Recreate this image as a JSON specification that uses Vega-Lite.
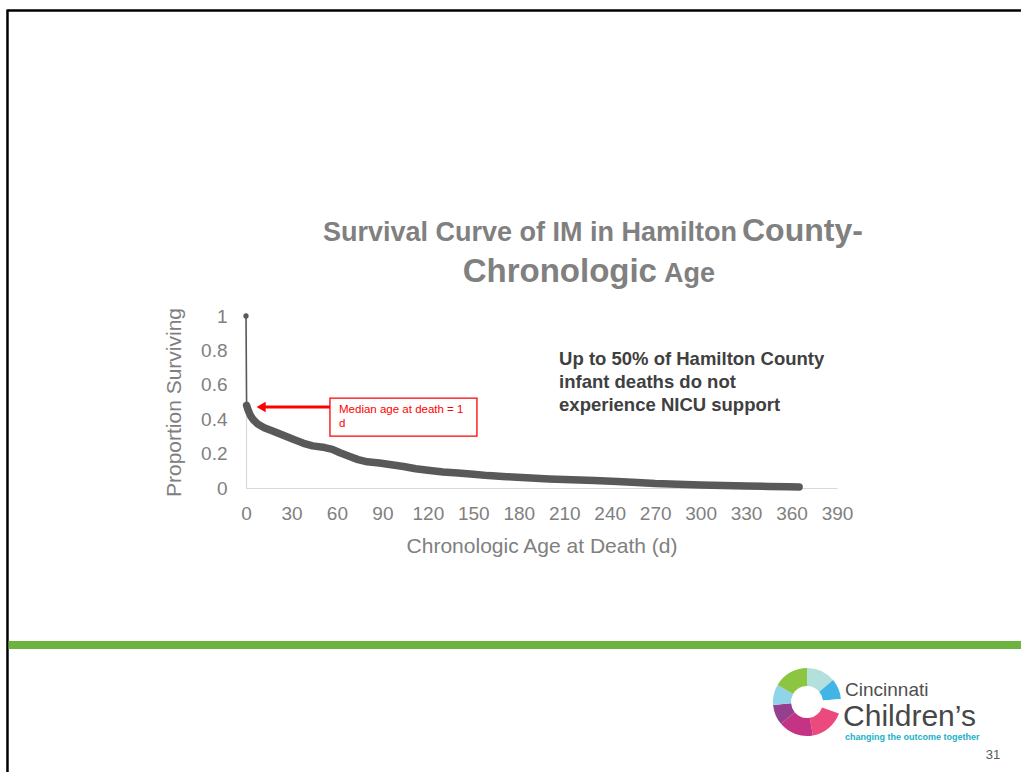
{
  "$schema": "https://vega.github.io/schema/vega-lite/v6.json",
  "width": 591,
  "height": 172,
  "autosize": {"type": "none"},
  "padding": {"left": 246, "top": 316, "right": 184, "bottom": 284},
  "background": "white",
  "config": {
    "view": {"stroke": null},
    "font": "Liberation Sans",
    "axis": {"grid": false, "ticks": false, "domainColor": "#d9d9d9", "domainWidth": 1.2, "labelColor": "#808080", "labelFontSize": 19, "labelFont": "Liberation Sans", "titleColor": "#808080", "titleFontSize": 21, "titleFontWeight": "normal", "titleFont": "Liberation Sans", "labelOverlap": false, "labelFlush": false}
  },
  "datasets": {
    "curve": [
      {"day": 0, "surv": 1.0},
      {"day": 0.4, "surv": 0.48},
      {"day": 1.5, "surv": 0.45},
      {"day": 3, "surv": 0.42},
      {"day": 5, "surv": 0.395},
      {"day": 8, "surv": 0.37},
      {"day": 12, "surv": 0.35},
      {"day": 18, "surv": 0.33},
      {"day": 25, "surv": 0.305},
      {"day": 32, "surv": 0.28},
      {"day": 38, "surv": 0.26},
      {"day": 44, "surv": 0.245},
      {"day": 52, "surv": 0.235},
      {"day": 57, "surv": 0.225},
      {"day": 62, "surv": 0.205},
      {"day": 68, "surv": 0.185},
      {"day": 74, "surv": 0.165},
      {"day": 80, "surv": 0.152},
      {"day": 88, "surv": 0.145},
      {"day": 96, "surv": 0.135},
      {"day": 104, "surv": 0.125},
      {"day": 112, "surv": 0.112},
      {"day": 120, "surv": 0.103},
      {"day": 130, "surv": 0.093},
      {"day": 140, "surv": 0.087},
      {"day": 150, "surv": 0.08},
      {"day": 160, "surv": 0.072},
      {"day": 172, "surv": 0.066},
      {"day": 185, "surv": 0.06},
      {"day": 200, "surv": 0.053},
      {"day": 215, "surv": 0.048},
      {"day": 230, "surv": 0.043},
      {"day": 245, "surv": 0.038},
      {"day": 258, "surv": 0.032},
      {"day": 270, "surv": 0.026},
      {"day": 285, "surv": 0.022},
      {"day": 300, "surv": 0.018},
      {"day": 315, "surv": 0.015},
      {"day": 330, "surv": 0.012},
      {"day": 345, "surv": 0.009},
      {"day": 358, "surv": 0.007},
      {"day": 365, "surv": 0.006}
    ],
    "frame": [
      {"part": "top", "day": -157.4, "day2": 511.4, "surv": 2.776, "surv2": 2.776},
      {"part": "left", "day": -157.4, "day2": -157.4, "surv": 2.782, "surv2": -1.651}
    ],
    "band": [
      {"day": -156.7, "day2": 511.4, "surv": -0.913}
    ],
    "logo": [
      {"idx": 1, "seg": "pale teal", "share": 50, "day": 370.2, "surv": -1.244},
      {"idx": 2, "seg": "blue", "share": 35, "day": 370.2, "surv": -1.244},
      {"idx": 3, "seg": "gap", "share": 25, "day": 370.2, "surv": -1.244},
      {"idx": 4, "seg": "pink", "share": 60, "day": 370.2, "surv": -1.244},
      {"idx": 5, "seg": "magenta", "share": 60, "day": 370.2, "surv": -1.244},
      {"idx": 6, "seg": "purple", "share": 35, "day": 370.2, "surv": -1.244},
      {"idx": 7, "seg": "light blue", "share": 35, "day": 370.2, "surv": -1.244},
      {"idx": 8, "seg": "green", "share": 60, "day": 370.2, "surv": -1.244}
    ]
  },
  "encoding": {
    "x": {
      "field": "day",
      "type": "quantitative",
      "title": "Chronologic Age at Death (d)",
      "scale": {"domain": [0, 390], "nice": false, "zero": false},
      "axis": {"values": [0, 30, 60, 90, 120, 150, 180, 210, 240, 270, 300, 330, 360, 390], "labelPadding": 16, "titlePadding": 12}
    },
    "y": {
      "field": "surv",
      "type": "quantitative",
      "title": "Proportion Surviving",
      "scale": {"domain": [0, 1], "nice": false, "zero": false},
      "axis": {"values": [0, 0.2, 0.4, 0.6, 0.8, 1], "format": "~g", "labelPadding": 19, "titlePadding": 16}
    }
  },
  "layer": [
    {
      "data": {"name": "frame"},
      "mark": {"type": "rule", "color": "#000000", "strokeWidth": 2.5, "clip": false},
      "encoding": {"x2": {"field": "day2"}, "y2": {"field": "surv2"}}
    },
    {
      "data": {"name": "band"},
      "mark": {"type": "rule", "color": "#6db33f", "strokeWidth": 8, "clip": false},
      "encoding": {"x2": {"field": "day2"}}
    },
    {
      "data": {"values": [{"day": 324.0, "surv": 1.436, "label": "Survival Curve of IM in Hamilton"}]},
      "mark": {"type": "text", "align": "right", "baseline": "alphabetic", "fontSize": 27, "fontWeight": "bold", "color": "#808080", "font": "Liberation Sans", "clip": false},
      "encoding": {"text": {"field": "label"}}
    },
    {
      "data": {"values": [{"day": 327.3, "surv": 1.436, "label": "County-"}]},
      "mark": {"type": "text", "align": "left", "baseline": "alphabetic", "fontSize": 32, "fontWeight": "bold", "color": "#808080", "font": "Liberation Sans", "clip": false},
      "encoding": {"text": {"field": "label"}}
    },
    {
      "data": {"values": [{"day": 271.2, "surv": 1.198, "label": "Chronologic"}]},
      "mark": {"type": "text", "align": "right", "baseline": "alphabetic", "fontSize": 33, "fontWeight": "bold", "color": "#808080", "font": "Liberation Sans", "clip": false},
      "encoding": {"text": {"field": "label"}}
    },
    {
      "data": {"values": [{"day": 275.8, "surv": 1.198, "label": "Age"}]},
      "mark": {"type": "text", "align": "left", "baseline": "alphabetic", "fontSize": 27, "fontWeight": "bold", "color": "#808080", "font": "Liberation Sans", "clip": false},
      "encoding": {"text": {"field": "label"}}
    },
    {
      "data": {"name": "curve"},
      "mark": {"type": "line", "color": "#595959", "strokeWidth": 1.6},
      "encoding": {}
    },
    {
      "data": {"name": "curve"},
      "transform": [{"filter": "datum.day > 0"}],
      "mark": {"type": "line", "color": "#595959", "strokeWidth": 7.5, "strokeCap": "round", "strokeJoin": "round"},
      "encoding": {}
    },
    {
      "data": {"name": "curve"},
      "transform": [{"filter": "datum.day == 0"}],
      "mark": {"type": "point", "filled": true, "color": "#595959", "size": 28, "opacity": 1},
      "encoding": {}
    },
    {
      "data": {"values": [{"day": 55.4, "day2": 152.4, "surv": 0.523, "surv2": 0.302}]},
      "mark": {"type": "rect", "fill": "#ffffff", "stroke": "#ff0000", "strokeWidth": 1.3},
      "encoding": {"x2": {"field": "day2"}, "y2": {"field": "surv2"}}
    },
    {
      "data": {"values": [{"day": 55.4, "day2": 11, "surv": 0.471}]},
      "mark": {"type": "rule", "color": "#ff0000", "strokeWidth": 3},
      "encoding": {"x2": {"field": "day2"}}
    },
    {
      "data": {"values": [{"day": 10, "surv": 0.471}]},
      "mark": {"type": "point", "shape": "triangle-left", "filled": true, "color": "#ff0000", "size": 110, "opacity": 1},
      "encoding": {}
    },
    {
      "data": {"values": [{"day": 61.4, "surv": 0.488, "label": "Median age at death = 1\nd"}]},
      "mark": {"type": "text", "align": "left", "baseline": "top", "lineBreak": "\n", "fontSize": 11.5, "lineHeight": 14, "color": "#ff0000", "font": "Liberation Sans"},
      "encoding": {"text": {"field": "label"}}
    },
    {
      "data": {"values": [{"day": 206.6, "surv": 0.75, "label": "Up to 50% of Hamilton County\ninfant deaths do not\nexperience NICU support"}]},
      "mark": {"type": "text", "align": "left", "baseline": "middle", "lineBreak": "\n", "fontSize": 18.5, "lineHeight": 23, "fontWeight": "bold", "color": "#404040", "font": "Liberation Sans"},
      "encoding": {"text": {"field": "label"}}
    },
    {
      "data": {"name": "logo"},
      "mark": {"type": "arc", "radius": 34, "radius2": 16, "clip": false},
      "encoding": {
        "theta": {"field": "share", "type": "quantitative", "stack": true},
        "order": {"field": "idx"},
        "color": {
          "field": "seg",
          "type": "nominal",
          "legend": null,
          "scale": {
            "domain": ["pale teal", "blue", "gap", "pink", "magenta", "purple", "light blue", "green"],
            "range": ["#b3e0dc", "#41b6e6", "#ffffff", "#ec4a7f", "#c43384", "#94408f", "#8fd4e8", "#8cc540"]
          }
        }
      }
    },
    {
      "data": {"values": [{"day": 395.3, "surv": -1.174, "label": "Cincinnati"}]},
      "mark": {"type": "text", "align": "left", "baseline": "middle", "fontSize": 19, "color": "#505050", "font": "Liberation Sans", "clip": false},
      "encoding": {"text": {"field": "label"}}
    },
    {
      "data": {"values": [{"day": 394, "surv": -1.33, "label": "Children’s"}]},
      "mark": {"type": "text", "align": "left", "baseline": "middle", "fontSize": 30, "color": "#474747", "font": "Liberation Sans", "clip": false},
      "encoding": {"text": {"field": "label"}}
    },
    {
      "data": {"values": [{"day": 395.3, "surv": -1.448, "label": "changing the outcome together"}]},
      "mark": {"type": "text", "align": "left", "baseline": "middle", "fontSize": 9, "fontWeight": "bold", "color": "#22b0c6", "font": "Liberation Sans", "clip": false},
      "encoding": {"text": {"field": "label"}}
    },
    {
      "data": {"values": [{"day": 492.9, "surv": -1.552, "label": "31"}]},
      "mark": {"type": "text", "align": "center", "baseline": "middle", "fontSize": 13, "color": "#595959", "font": "Liberation Sans", "clip": false},
      "encoding": {"text": {"field": "label"}}
    }
  ]
}
